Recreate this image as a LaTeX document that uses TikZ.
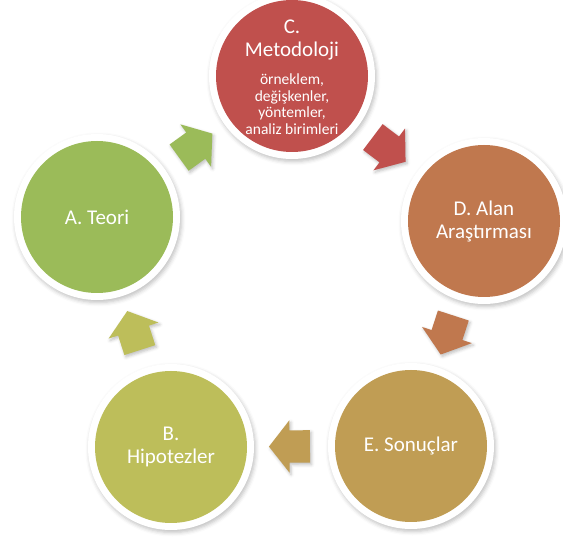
\documentclass[tikz,border=0pt]{standalone}
\usepackage{fontspec}
\setmainfont{Carlito}
\usepackage{tikz}
\usetikzlibrary{shapes.arrows,shadows.blur,calc}
\definecolor{teori}{HTML}{9BBB59}
\definecolor{hipotez}{HTML}{BDBE5A}
\definecolor{metot}{HTML}{C0504D}
\definecolor{alan}{HTML}{C0784E}
\definecolor{sonuc}{HTML}{C09D54}
\newcommand{\minitext}{\fontsize{15.5}{16.5}\selectfont}

\begin{document}
\begin{tikzpicture}[x=1pt,y=-1pt,
  stage/.style={circle,fill=white,minimum size=166pt,inner sep=0pt,
    text=white,align=center,font=\fontsize{21}{23}\selectfont,
    blur shadow={shadow xshift=1.5pt,shadow yshift=-2.5pt,shadow opacity=25,shadow blur radius=4pt},
    path picture={\fill[#1] (path picture bounding box.center) circle (76pt);}},
  flow/.style={single arrow,fill=#1,minimum height=41pt,inner xsep=0pt,inner ysep=16pt,
    single arrow head extend=10pt,single arrow tip angle=104,
    blur shadow={shadow xshift=1.5pt,shadow yshift=-2pt,shadow opacity=25,shadow blur radius=3pt}}]
\useasboundingbox (0,0) rectangle (563,537);

\node[stage=teori] (A) at (97,217) {A. Teori};
\node[stage=hipotez] (B) at (171,447) {B.\\Hipotezler};
\node[stage=metot] (C) at (292,76)
  {\rule{0pt}{20.5pt}C.\\Metodoloji\\[5pt]\minitext\begin{tabular}[t]{@{}c@{}}örneklem,\\değişkenler,\\yöntemler,\\analiz birimleri\end{tabular}};
\node[stage=alan] (D) at (484,221) {D. Alan\\Araştırması};
\node[stage=sonuc] (E) at (411,446) {E. Sonuçlar};

\foreach \from/\to/\col in {A/C/teori,C/D/metot,D/E/alan,E/B/sonuc,B/A/hipotez}
  \path let \p1=($(\to)-(\from)$),\n1={atan2(\y1,\x1)} in
    node[flow=\col,rotate=\n1] at ($(\from)!0.48!(\to)$) {};
\end{tikzpicture}
\end{document}
